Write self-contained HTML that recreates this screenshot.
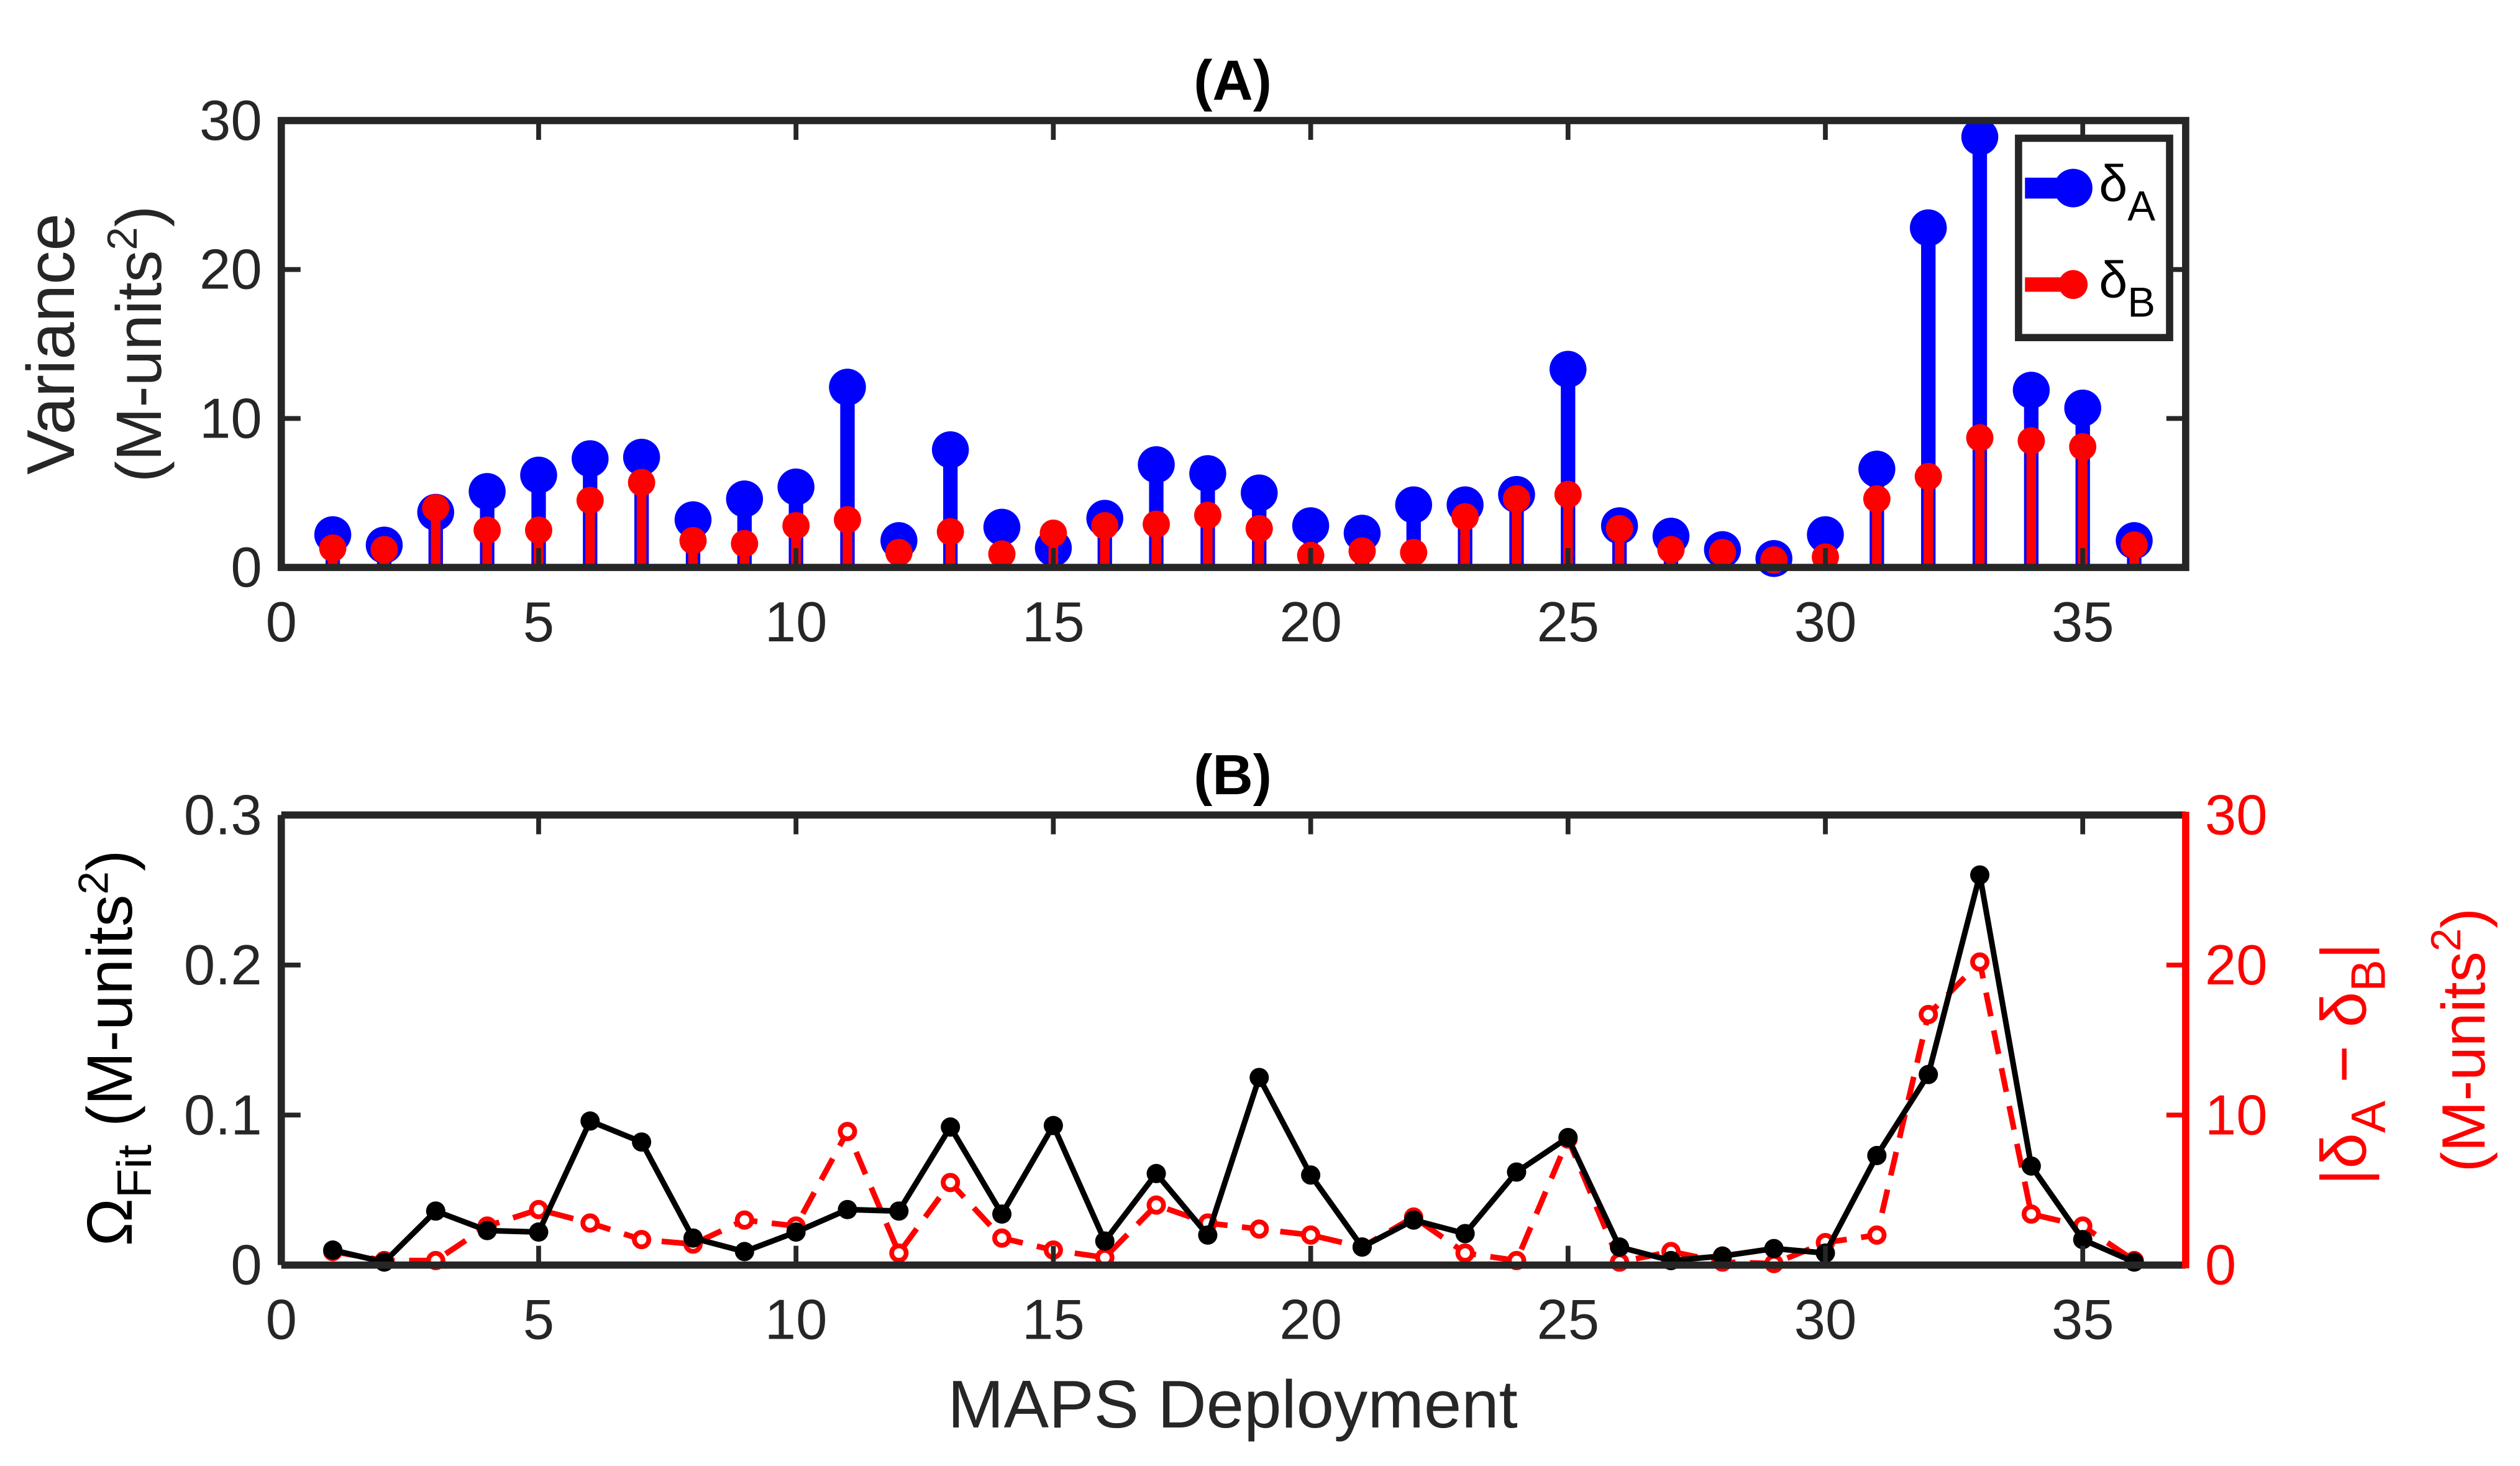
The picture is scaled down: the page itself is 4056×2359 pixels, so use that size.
<!DOCTYPE html>
<html><head><meta charset="utf-8"><style>
html,body{margin:0;padding:0;background:#fff;}
svg{display:block;font-family:"Liberation Sans",sans-serif;}
</style></head><body>
<svg id="chart" width="4056" height="2359" viewBox="0 0 1568 912" xmlns="http://www.w3.org/2000/svg">
<g id="pa"></g>
<g id="pb"></g>
</svg>
<script>
const deployments = [1,2,3,4,5,6,7,8,9,10,11,12,13,14,15,16,17,18,19,20,21,22,23,24,25,26,27,28,29,30,31,32,33,34,35,36];
const deltaA = [2.2,1.5,3.7,5.1,6.2,7.3,7.4,3.2,4.6,5.4,12.1,1.8,7.9,2.7,1.3,3.3,6.9,6.3,5.0,2.8,2.3,4.2,4.2,4.9,13.3,2.8,2.1,1.2,0.6,2.2,6.6,22.8,28.9,11.9,10.7,1.8];
const deltaB = [1.3,1.2,4.0,2.5,2.5,4.5,5.7,1.8,1.6,2.8,3.2,1.0,2.4,0.9,2.3,2.8,2.9,3.5,2.6,0.8,1.1,1.0,3.4,4.6,4.9,2.6,1.2,1.0,0.5,0.7,4.6,6.1,8.7,8.5,8.1,1.5];
const omegaFit = [0.010,0.002,0.036,0.023,0.022,0.096,0.082,0.018,0.009,0.022,0.037,0.036,0.092,0.034,0.093,0.016,0.061,0.020,0.125,0.060,0.012,0.030,0.021,0.062,0.085,0.012,0.003,0.006,0.011,0.008,0.073,0.127,0.260,0.066,0.017,0.002];
const absDiff = [0.9,0.3,0.3,2.6,3.7,2.8,1.7,1.4,3.0,2.6,8.9,0.8,5.5,1.8,1.0,0.5,4.0,2.8,2.4,2.0,1.2,3.2,0.8,0.3,8.4,0.2,0.9,0.2,0.1,1.5,2.0,16.7,20.2,3.4,2.6,0.3];
const xTicks = [0,5,10,15,20,25,30,35];
const yTicksA = [0,10,20,30];
const yTicksBL = [0,0.1,0.2,0.3];
const yTicksBR = [0,10,20,30];

const NS="http://www.w3.org/2000/svg";
function mk(parent,tag,attrs,text){const e=document.createElementNS(NS,tag);for(const k in attrs)e.setAttribute(k,attrs[k]);if(text!==undefined)e.textContent=text;parent.appendChild(e);return e;}
const L=175,R=1360;
const xs=v=>L+(v/37)*(R-L);
const DK="#262626";
const TF=35;

// Panel A
const pa=document.getElementById('pa');
const aT=75,aB=353;
const yA=v=>aB-(v/30)*(aB-aT);
for(let i=0;i<deployments.length;i++){
  const x=xs(deployments[i]);
  let s=mk(pa,'line',{x1:x,x2:x,y1:yA(0),y2:yA(deltaA[i]),stroke:'#0000ff','stroke-width':9});
  
  let c=mk(pa,'circle',{cx:x,cy:yA(deltaA[i]),r:11.5,fill:'#0000ff'});
  
}
for(let i=0;i<deployments.length;i++){
  const x=xs(deployments[i]);
  let s=mk(pa,'line',{x1:x,x2:x,y1:yA(0),y2:yA(deltaB[i]),stroke:'#ff0000','stroke-width':6});
  
  let c=mk(pa,'circle',{cx:x,cy:yA(deltaB[i]),r:8.5,fill:'#ff0000'});
  
}
let fr=mk(pa,'rect',{x:L,y:aT,width:R-L,height:aB-aT,fill:'none',stroke:DK,'stroke-width':4.5});

xTicks.forEach(t=>{const x=xs(t);
  if(t>0){mk(pa,'line',{x1:x,x2:x,y1:aB,y2:aB-12,stroke:DK,'stroke-width':3});mk(pa,'line',{x1:x,x2:x,y1:aT,y2:aT+12,stroke:DK,'stroke-width':3});}
  let tl=mk(pa,'text',{x:x,y:aB+46,'font-size':TF,'text-anchor':'middle',fill:DK},t);
  
});
yTicksA.forEach(t=>{const y=yA(t);
  if(t>0&&t<30){mk(pa,'line',{x1:L,x2:L+12,y1:y,y2:y,stroke:DK,'stroke-width':3});mk(pa,'line',{x1:R,x2:R-12,y1:y,y2:y,stroke:DK,'stroke-width':3});}
  let tl=mk(pa,'text',{x:L-12,y:y+12,'font-size':TF,'text-anchor':'end',fill:DK},t);
  
});
let ta=mk(pa,'text',{x:767,y:62,'font-size':35,'font-weight':'bold','text-anchor':'middle',fill:'#000'},'(A)');

let yl=mk(pa,'text',{transform:'translate(46,214) rotate(-90)','font-size':42,'text-anchor':'middle',fill:DK},'Variance');

let yl2=mk(pa,'text',{transform:'translate(100,214) rotate(-90)','font-size':40,'text-anchor':'middle',fill:DK});

yl2.innerHTML='(M-units<tspan dy="-15" font-size="26">2</tspan><tspan dy="15">)</tspan>';
// legend
const lg=mk(pa,'g',{});

mk(lg,'rect',{x:1256,y:86,width:94,height:124,fill:'#fff',stroke:DK,'stroke-width':4.5});
mk(lg,'line',{x1:1260,x2:1290,y1:117,y2:117,stroke:'#0000ff','stroke-width':13});
mk(lg,'circle',{cx:1290,cy:117,r:12,fill:'#0000ff'});
let la=mk(lg,'text',{x:1306,y:125,'font-size':32,fill:'#000'});la.innerHTML='δ<tspan dy="12" font-size="26">A</tspan>';

mk(lg,'line',{x1:1260,x2:1290,y1:177,y2:177,stroke:'#ff0000','stroke-width':9});
mk(lg,'circle',{cx:1290,cy:177,r:9,fill:'#ff0000'});
let lb=mk(lg,'text',{x:1306,y:185,'font-size':32,fill:'#000'});lb.innerHTML='δ<tspan dy="12" font-size="26">B</tspan>';


// Panel B
const pb=document.getElementById('pb');
const bT=507,bB=787;
const yBL=v=>bB-(v/0.3)*(bB-bT);
const yBR=v=>bB-(v/30)*(bB-bT);
let rp=deployments.map((d,i)=>xs(d)+','+yBR(absDiff[i])).join(' ');
let rl=mk(pb,'polyline',{points:rp,fill:'none',stroke:'#ff0000','stroke-width':3.5,'stroke-dasharray':'15,9'});

for(let i=0;i<deployments.length;i++){
  let c=mk(pb,'circle',{cx:xs(deployments[i]),cy:yBR(absDiff[i]),r:4.5,fill:'#fff',stroke:'#ff0000','stroke-width':3});
  
}
let bp=deployments.map((d,i)=>xs(d)+','+yBL(omegaFit[i])).join(' ');
let bl=mk(pb,'polyline',{points:bp,fill:'none',stroke:'#000','stroke-width':3.5});

for(let i=0;i<deployments.length;i++){
  let c=mk(pb,'circle',{cx:xs(deployments[i]),cy:yBL(omegaFit[i]),r:6,fill:'#000'});
  
}
mk(pb,'line',{x1:L,x2:R,y1:bT,y2:bT,stroke:DK,'stroke-width':4.5});
mk(pb,'line',{x1:L,x2:R,y1:bB,y2:bB,stroke:DK,'stroke-width':4.5});
let la2=mk(pb,'line',{x1:L,x2:L,y1:bT,y2:bB,stroke:DK,'stroke-width':4.5});

let ra=mk(pb,'line',{x1:R,x2:R,y1:bT-2,y2:bB+2,stroke:'#ff0000','stroke-width':4.5});

xTicks.forEach(t=>{const x=xs(t);
  if(t>0){mk(pb,'line',{x1:x,x2:x,y1:bB,y2:bB-12,stroke:DK,'stroke-width':3});mk(pb,'line',{x1:x,x2:x,y1:bT,y2:bT+12,stroke:DK,'stroke-width':3});}
  let tl=mk(pb,'text',{x:x,y:bB+46,'font-size':TF,'text-anchor':'middle',fill:DK},t);
  
});
yTicksBL.forEach(t=>{const y=yBL(t);
  if(t>0&&t<0.3)mk(pb,'line',{x1:L,x2:L+12,y1:y,y2:y,stroke:DK,'stroke-width':3});
  let tl=mk(pb,'text',{x:L-12,y:y+12,'font-size':TF,'text-anchor':'end',fill:DK},t===0?'0':t.toFixed(1));
  
});
yTicksBR.forEach(t=>{const y=yBR(t);
  if(t>0&&t<30)mk(pb,'line',{x1:R,x2:R-12,y1:y,y2:y,stroke:'#ff0000','stroke-width':3});
  let tl=mk(pb,'text',{x:R+12,y:y+12,'font-size':TF,'text-anchor':'start',fill:'#ff0000'},t);
  
});
let tb=mk(pb,'text',{x:767,y:494,'font-size':35,'font-weight':'bold','text-anchor':'middle',fill:'#000'},'(B)');

let xl=mk(pb,'text',{x:767,y:888,'font-size':42,'text-anchor':'middle',fill:DK},'MAPS Deployment');

let ylb=mk(pb,'text',{transform:'translate(82,652) rotate(-90)','font-size':40,'text-anchor':'middle',fill:'#000'});
ylb.innerHTML='Ω<tspan dy="12" font-size="30">Fit</tspan><tspan dy="-12"> (M-units</tspan><tspan dy="-15" font-size="26">2</tspan><tspan dy="15">)</tspan>';

let yr1=mk(pb,'text',{transform:'translate(1472,662) rotate(-90)','font-size':40,'text-anchor':'middle',fill:'#ff0000'});
yr1.innerHTML='|δ<tspan dy="12" font-size="30">A</tspan><tspan dy="-12"> − δ</tspan><tspan dy="12" font-size="30">B</tspan><tspan dy="-12">|</tspan>';

let yr2=mk(pb,'text',{transform:'translate(1546,647) rotate(-90)','font-size':38,'text-anchor':'middle',fill:'#ff0000'});
yr2.innerHTML='(M-units<tspan dy="-15" font-size="26">2</tspan><tspan dy="15">)</tspan>';

</script>
</body></html>
